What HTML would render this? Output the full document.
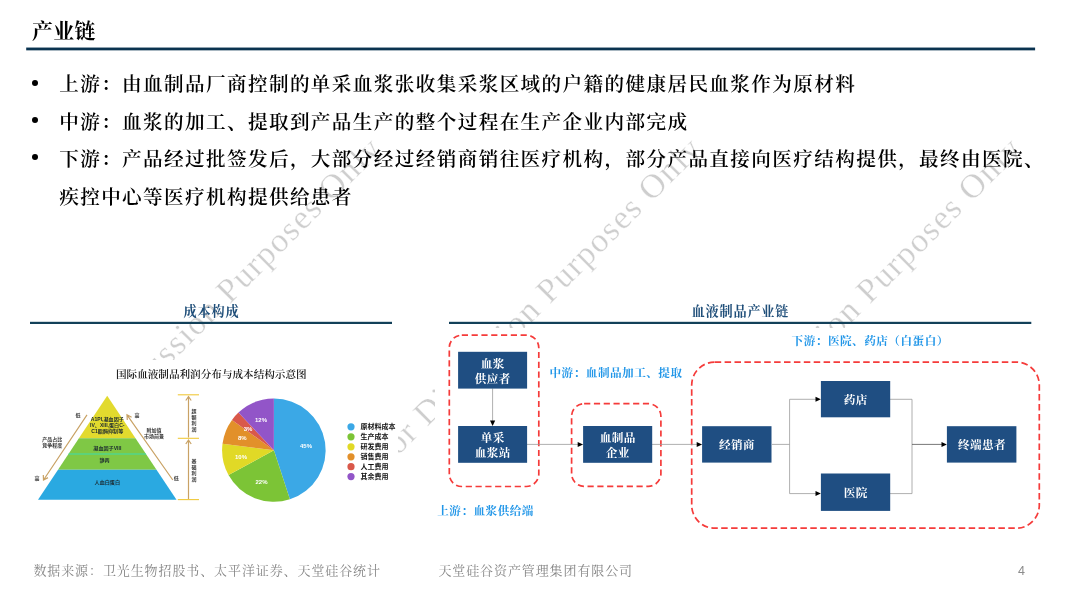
<!DOCTYPE html>
<html lang="zh-CN">
<head>
<meta charset="utf-8">
<title>产业链</title>
<style>
*{box-sizing:border-box;margin:0;padding:0}
html,body{width:1080px;height:598px;background:#fff;overflow:hidden}
body{position:relative;opacity:0.999;font-family:"Liberation Serif","Noto Serif CJK SC",serif;color:#000}
.abs{position:absolute;white-space:nowrap}
.title{left:32px;top:18.8px;font-size:21px;line-height:24px;font-weight:700;letter-spacing:0.2px}
.bl{left:59.2px;font-size:19.6px;line-height:26px;font-weight:600;letter-spacing:1.38px}
.dot{position:absolute;left:32.3px;width:6.2px;height:6.2px;border-radius:50%;background:#000}
.sh{font-size:13.2px;line-height:16px;font-weight:700;color:#1f4e79;text-align:center;letter-spacing:0.8px;text-indent:0.8px}
.foot{font-size:13px;line-height:16px;color:#858585;top:563.3px;letter-spacing:0.9px}
.img{position:absolute;background:#fff}
svg{position:absolute;left:0;top:0;overflow:visible}
svg text{font-family:"Liberation Sans","Noto Sans CJK SC",sans-serif}
svg .wmt text{font-family:"Liberation Serif",serif}
svg .kai text, svg text.kai{font-family:"Liberation Serif","Noto Serif CJK SC",serif}
</style>
</head>
<body>
<!-- watermarks -->
<svg id="wm" width="1080" height="598" viewBox="0 0 1080 598">
  <g class="wmt" font-size="34" fill="#cecece" letter-spacing="1.43" stroke="#fff" stroke-width="0.3">
    <text transform="translate(63.7,470.5) rotate(-45)">For Discussion Purposes Only</text>
    <text transform="translate(383.7,470.5) rotate(-45)">For Discussion Purposes Only</text>
    <text transform="translate(703.7,470.5) rotate(-45)">For Discussion Purposes Only</text>
  </g>
  <g fill="#0a3350">
    <rect x="26.2" y="47.55" width="1008.9" height="2.8"/>
    <rect x="30" y="321.8" width="362" height="2.2" fill="#124059"/>
    <rect x="449" y="321.8" width="582.3" height="2.2" fill="#124059"/>
  </g>
</svg>

<!-- heading -->
<div class="abs title">产业链</div>

<!-- bullets -->
<div class="dot" style="top:79.5px"></div>
<div class="abs bl" style="top:72.4px">上游：由血制品厂商控制的单采血浆张收集采浆区域的户籍的健康居民血浆作为原材料</div>
<div class="dot" style="top:116.9px"></div>
<div class="abs bl" style="top:109.8px">中游：血浆的加工、提取到产品生产的整个过程在生产企业内部完成</div>
<div class="dot" style="top:154.3px"></div>
<div class="abs bl" style="top:147.2px">下游：产品经过批签发后，大部分经过经销商销往医疗机构，部分产品直接向医疗结构提供，最终由医院、</div>
<div class="abs bl" style="top:184.6px">疾控中心等医疗机构提供给患者</div>

<!-- left section -->
<div class="abs sh" style="left:30px;width:362px;top:304px">成本构成</div>
<div class="img" id="chart" style="left:24px;top:360px;width:373.5px;height:152px">
<svg width="380" height="152" viewBox="24 360 380 152" style="filter:blur(0.45px)">
  <text x="211.3" y="378.3" text-anchor="middle" font-size="10.6" font-weight="600" class="kai" fill="#111">国际血液制品利润分布与成本结构示意图</text>
  <!-- pyramid -->
  <polygon points="107.2,395.8 135.5,438.3 78.9,438.3" fill="#e2da2e"/>
  <polygon points="78.9,438.3 135.5,438.3 156.5,469.8 58,469.8" fill="#7fc845"/>
  <polygon points="58,469.8 156.5,469.8 176.5,499.8 38,499.8" fill="#2aa9e1"/>
  <line x1="68.5" y1="454" x2="146" y2="454" stroke="#3cdcae" stroke-width="1"/>
  <g font-size="5.1" fill="#1c2a30" text-anchor="middle" font-weight="700">
    <text x="107.3" y="421.3">A1PI,凝血因子</text>
    <text x="107.3" y="427.3">IV、XIII,蛋白C-</text>
    <text x="107.3" y="433.3">C1酯酶抑制等</text>
    <text x="107.3" y="449.7">凝血因子VIII</text>
    <text x="104.5" y="462.3">静丙</text>
    <text x="107.3" y="483.6">人血白蛋白</text>
  </g>
  <g font-size="5" fill="#333" text-anchor="middle" font-weight="700">
    <text x="78" y="417.3">低</text>
    <text x="137" y="417.3">高</text>
    <text x="52.3" y="441.4">产品占比</text>
    <text x="52.3" y="447.4">竞争程度</text>
    <text x="154" y="431.5">附加值</text>
    <text x="154" y="437.6">市场前景</text>
    <text x="37" y="480.3">高</text>
    <text x="176.3" y="480.3">低</text>
    <text x="194" y="413">超</text><text x="194" y="419">额</text><text x="194" y="425">利</text><text x="194" y="431">润</text>
    <text x="194" y="462.5">基</text><text x="194" y="468.5">础</text><text x="194" y="474.5">利</text><text x="194" y="480.5">润</text>
  </g>
  <g stroke="#c9a265" stroke-width="1.2" fill="none">
    <path d="M87,414.8 L43.5,480 M43.3,475 L43.5,480 L48,477.6"/>
    <path d="M172.8,480 L127,414.8 M127.3,420 L127,414.8 L131.6,417.2"/>
    <path d="M188.5,396.5 V437.5 M185.8,400.5 L188.5,396.5 L191.2,400.5"/>
    <path d="M188.5,440 V499 M185.8,444 L188.5,440 L191.2,444"/>
  </g>
  <g stroke="#f0c93a" stroke-width="1.1">
    <line x1="177.8" y1="394.8" x2="199" y2="394.8"/>
    <line x1="177.8" y1="438.3" x2="199" y2="438.3"/>
    <line x1="177.8" y1="499.6" x2="199" y2="499.6"/>
  </g>
  <!-- pie -->
  <g transform="translate(273.9,450.2) scale(0.996,0.992)">
    <path d="M0,0 L0,-52 A52,52 0 0 1 16.07,49.45 Z" fill="#3ba8e6"/>
    <path d="M0,0 L16.07,49.45 A52,52 0 0 1 -45.57,25.05 Z" fill="#7cc436"/>
    <path d="M0,0 L-45.57,25.05 A52,52 0 0 1 -51.59,-6.52 Z" fill="#e1d926"/>
    <path d="M0,0 L-51.59,-6.52 A52,52 0 0 1 -42.07,-30.56 Z" fill="#e2902a"/>
    <path d="M0,0 L-42.07,-30.56 A52,52 0 0 1 -35.6,-37.91 Z" fill="#d9584a"/>
    <path d="M0,0 L-35.6,-37.91 A52,52 0 0 1 0,-52 Z" fill="#9255c8"/>
  </g>
  <g font-size="6" fill="#fff" text-anchor="middle" font-weight="700">
    <text x="306" y="447.8">45%</text>
    <text x="261.5" y="483.6">22%</text>
    <text x="241" y="459">10%</text>
    <text x="242.3" y="440.2">8%</text>
    <text x="248" y="430.6">3%</text>
    <text x="261" y="422">12%</text>
  </g>
  <g>
    <circle cx="351" cy="426.8" r="3.6" fill="#3ba8e6"/>
    <circle cx="351" cy="436.8" r="3.6" fill="#7cc436"/>
    <circle cx="351" cy="446.8" r="3.6" fill="#e1d926"/>
    <circle cx="351" cy="456.8" r="3.6" fill="#e2902a"/>
    <circle cx="351" cy="466.7" r="3.6" fill="#d9584a"/>
    <circle cx="351" cy="476.6" r="3.6" fill="#9255c8"/>
  </g>
  <g font-size="7" fill="#111" font-weight="700">
    <text x="360.6" y="429.4">原材料成本</text>
    <text x="360.6" y="439.4">生产成本</text>
    <text x="360.6" y="449.4">研发费用</text>
    <text x="360.6" y="459.4">销售费用</text>
    <text x="360.6" y="469.3">人工费用</text>
    <text x="360.6" y="479.2">其余费用</text>
  </g>
</svg>
</div>

<!-- right section -->
<div class="abs sh" style="left:449px;width:582px;top:304px">血液制品产业链</div>
<div class="img" id="flow" style="left:435px;top:328px;width:645px;height:210px">
<svg width="645" height="210" viewBox="435 328 645 210" style="filter:blur(0.3px)">
  <g fill="none" stroke="#f53b3a" stroke-width="1.7" stroke-dasharray="6.2 3.6">
    <rect x="449.3" y="335.2" width="89.5" height="151.3" rx="12.5" ry="12.5"/>
    <rect x="571.6" y="403.7" width="89.3" height="82.6" rx="12.5" ry="12.5"/>
  </g>
  <g fill="none" stroke="#f53b3a" stroke-width="1.7" stroke-dasharray="6.5 3.4">
    <rect x="691.7" y="362.1" width="347.6" height="166.1" rx="23" ry="23"/>
  </g>
  <g stroke="#9a9a9a" stroke-width="0.8" fill="none">
    <path d="M492.6,388.4 V422"/>
    <path d="M527,444.4 H579"/>
    <path d="M652,444.4 H699"/>
    <path d="M772,444.4 H789.6 M789.6,399.3 V493.6 M789.6,399.3 H817 M789.6,493.6 H817"/>
    <path d="M890,399.3 H912 V493.6 H890"/>
    <path d="M912,444.4 H943" stroke="#555"/>
  </g>
  <g fill="#000">
    <polygon points="490,420.6 495.2,420.6 492.6,426"/>
    <polygon points="577.7,441.9 583.1,444.4 577.7,446.9"/>
    <polygon points="696.7,441.9 702.1,444.4 696.7,446.9"/>
    <polygon points="815.5,396.8 820.9,399.3 815.5,401.8"/>
    <polygon points="815.5,491.1 820.9,493.6 815.5,496.1"/>
    <polygon points="941.5,441.9 946.9,444.4 941.5,446.9"/>
  </g>
  <g fill="#1f4e82">
    <rect x="458.1" y="351.8" width="69" height="36.8"/>
    <rect x="458.1" y="426" width="69" height="36.8"/>
    <rect x="583.1" y="426" width="69.1" height="36.8"/>
    <rect x="702.1" y="426.2" width="69.4" height="36.4"/>
    <rect x="820.9" y="381" width="69.3" height="36.3"/>
    <rect x="820.9" y="473.5" width="69.3" height="37.4"/>
    <rect x="946.9" y="426.2" width="69.5" height="36.4"/>
  </g>
  <g class="kai" font-size="11.6" fill="#fff" text-anchor="middle" font-weight="700" letter-spacing="0.4">
    <text x="492.8" y="368.2">血浆</text>
    <text x="492.8" y="382.7">供应者</text>
    <text x="492.8" y="442.2">单采</text>
    <text x="492.8" y="456.7">血浆站</text>
    <text x="617.8" y="442.2">血制品</text>
    <text x="617.8" y="456.7">企业</text>
    <text x="737" y="448.8">经销商</text>
    <text x="855.7" y="403.7">药店</text>
    <text x="855.7" y="497">医院</text>
    <text x="981.9" y="448.8">终端患者</text>
  </g>
  <g class="kai" font-size="11.6" fill="#2196e8" font-weight="700" letter-spacing="0.5">
    <text x="549.5" y="376.7">中游：血制品加工、提取</text>
    <text x="437.2" y="515">上游：血浆供给端</text>
    <text x="791.6" y="345.2">下游：医院、药店（白蛋白）</text>
  </g>
</svg>
</div>

<!-- footer -->
<div class="abs foot" style="left:33.4px">数据来源：卫光生物招股书、太平洋证券、天堂硅谷统计</div>
<div class="abs foot" style="left:438.4px">天堂硅谷资产管理集团有限公司</div>
<div class="abs foot" style="left:1018px;font-family:'Liberation Sans',sans-serif;font-size:12.5px;letter-spacing:0;color:#8c8c8c">4</div>
</body>
</html>
